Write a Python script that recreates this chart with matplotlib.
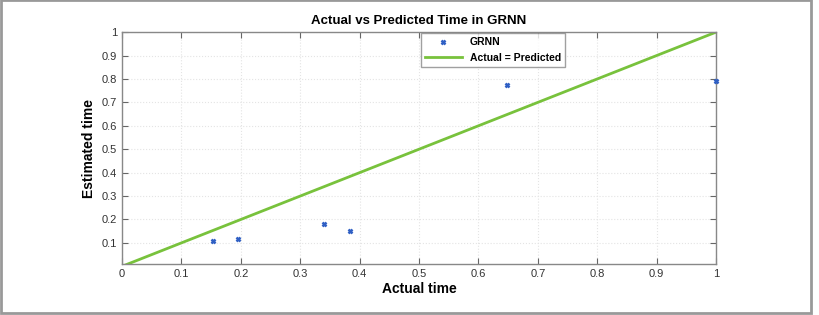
import matplotlib
matplotlib.use("Agg")
import matplotlib.pyplot as plt
from matplotlib.patches import Rectangle

plt.rcParams['font.family'] = ['Liberation Sans', 'DejaVu Sans']

actual = [0.153, 0.196, 0.340, 0.384, 0.648, 1.0]
predicted = [0.110, 0.117, 0.180, 0.150, 0.773, 0.792]
ideal_x = [0.0, 1.0]
ideal_y = [0.0, 1.0]
xticks = [0, 0.1, 0.2, 0.3, 0.4, 0.5, 0.6, 0.7, 0.8, 0.9, 1]
yticks = [0.1, 0.2, 0.3, 0.4, 0.5, 0.6, 0.7, 0.8, 0.9, 1]

fig = plt.figure(figsize=(8.2, 3.15), dpi=100)
ax = fig.add_axes([0.1488, 0.162, 0.7244, 0.736])

ax.plot(actual, predicted, linestyle='none', marker='x', markersize=3.5,
        markeredgewidth=1.8, color='#2f5fc4', label='GRNN', clip_on=False, zorder=3)
ax.plot(ideal_x, ideal_y, color='#78c23c', linewidth=2, label='Actual = Predicted', zorder=2)

ax.set_xlim(0, 1)
ax.set_ylim(0.01, 1)
ax.set_xticks(xticks)
ax.set_xticklabels([f'{t:g}' for t in xticks])
ax.set_yticks(yticks)
ax.set_yticklabels([f'{t:g}' for t in yticks])
ax.tick_params(direction='in', top=True, right=True, length=4, width=0.8,
               colors='#666666', labelcolor='#333333', labelsize=8)
ax.grid(True, linestyle=':', color='#e4e4e4', linewidth=0.8)
for s in ax.spines.values():
    s.set_color('#888888')
    s.set_linewidth(1.0)

ax.set_title('Actual vs Predicted Time in GRNN', fontsize=9.5, fontweight='bold', pad=6)
ax.set_xlabel('Actual time', fontsize=10, fontweight='bold', labelpad=2)
ax.set_ylabel('Estimated time', fontsize=10, fontweight='bold', labelpad=4)

leg = ax.legend(loc='upper center', bbox_to_anchor=(0.625, 1.0), fontsize=7.5,
                frameon=True, fancybox=False, edgecolor='#888888',
                borderaxespad=0.1, handlelength=3.5, borderpad=0.4, labelspacing=0.5)
for t in leg.get_texts():
    t.set_fontweight('bold')

fig.patches.append(Rectangle((0.001, 0.005), 0.988, 0.994, transform=fig.transFigure,
                             fill=False, edgecolor='#999999', linewidth=2))

fig.savefig('out.png', dpi=100)
